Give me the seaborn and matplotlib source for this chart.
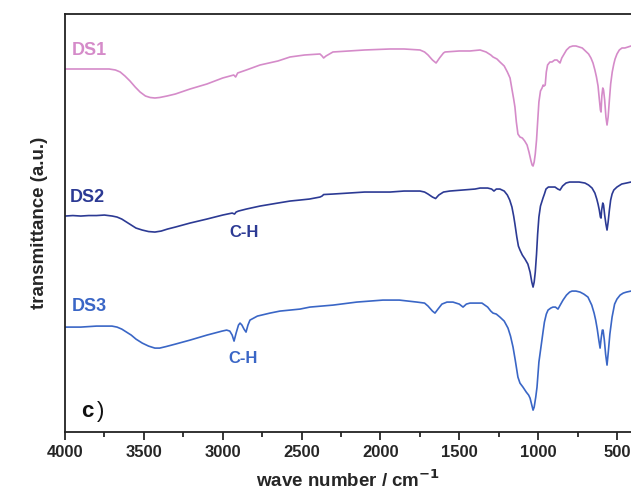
import numpy as np
import pandas as pd
import matplotlib
matplotlib.use("Agg")
import matplotlib.pyplot as plt
import seaborn as sns

sns.set_style("white")
plt.rcParams["font.family"] = ["Liberation Sans", "DejaVu Sans"]

# FTIR spectra: (wave number / cm-1, transmittance / a.u.)
ds1 = [(4000, 363), (3900, 363), (3800, 363), (3720, 363), (3680, 362), (3650, 360), (3620, 356),
       (3588, 351), (3555, 345), (3524, 340), (3490, 336), (3460, 334.5), (3430, 334), (3400, 334.5),
       (3353, 336), (3300, 338), (3207, 343), (3100, 348), (3000, 354), (2930, 357), (2918, 355),
       (2905, 359), (2850, 362), (2763, 367), (2650, 371), (2573, 375), (2480, 377), (2383, 378),
       (2370, 376), (2360, 374), (2345, 376), (2301, 380), (2200, 381), (2100, 382), (1939, 383),
       (1850, 383), (1749, 382), (1720, 380), (1698, 377), (1670, 372), (1647, 369), (1625, 374),
       (1600, 379), (1590, 380), (1500, 381), (1432, 381), (1368, 382), (1330, 380), (1300, 377),
       (1286, 375), (1261, 373), (1242, 370), (1215, 366), (1195, 360), (1178, 354), (1165, 342),
       (1155, 333), (1147, 325), (1138, 310), (1128, 298), (1115, 295), (1100, 294), (1085, 291),
       (1070, 287), (1058, 280), (1045, 271), (1038, 267), (1032, 266), (1025, 270), (1018, 278),
       (1010, 292), (1003, 310), (995, 330), (985, 341), (975, 344), (968, 347), (962, 346),
       (955, 347), (948, 360), (940, 367), (925, 370), (912, 370), (895, 372), (880, 372),
       (868, 370), (861, 369), (850, 374), (835, 378), (820, 382), (800, 385), (780, 386),
       (760, 386), (740, 385), (720, 384), (700, 381), (680, 378), (665, 374), (652, 369),
       (640, 362), (630, 355), (620, 346), (612, 333), (605, 322), (601, 320), (596, 336),
       (590, 344), (585, 342), (578, 332), (570, 315), (563, 307), (556, 315), (548, 332),
       (540, 348), (530, 360), (520, 368), (512, 373), (500, 378), (485, 382), (468, 384),
       (450, 384), (430, 385), (411, 386)]

ds2 = [(4000, 216), (3950, 216.5), (3900, 216), (3850, 216.5), (3800, 216.5), (3750, 217), (3700, 216),
       (3670, 215), (3640, 213), (3610, 210), (3580, 207), (3550, 204), (3510, 202), (3470, 200.5),
       (3430, 200), (3390, 201), (3350, 203), (3300, 205), (3207, 209), (3100, 213), (3000, 217),
       (2940, 219), (2925, 218), (2915, 220), (2900, 221), (2850, 223), (2763, 226), (2650, 229),
       (2573, 231), (2510, 232), (2450, 233), (2383, 235), (2370, 236), (2360, 237.5), (2301, 238),
       (2200, 239), (2100, 240), (1939, 240), (1850, 241), (1749, 241), (1720, 240), (1698, 238),
       (1670, 235), (1650, 233.5), (1630, 237), (1600, 240), (1560, 241), (1480, 242), (1400, 243),
       (1368, 244), (1320, 244), (1295, 243), (1280, 241), (1265, 243), (1242, 243), (1215, 241),
       (1195, 237), (1180, 232), (1166, 225), (1155, 216), (1147, 208), (1135, 195), (1125, 186),
       (1115, 182), (1100, 177), (1083, 173), (1065, 168), (1051, 160), (1040, 150), (1032, 145),
       (1025, 150), (1018, 160), (1010, 178), (1003, 198), (995, 215), (985, 226), (975, 231),
       (969, 234), (960, 238), (950, 243), (935, 245), (915, 245), (893, 245), (875, 243),
       (861, 242), (845, 246), (823, 249), (800, 250), (766, 250), (740, 250), (703, 249),
       (680, 247), (658, 244), (640, 239), (628, 233), (620, 228), (612, 222), (605, 215),
       (601, 214), (597, 222), (590, 229), (585, 227), (578, 217), (570, 208), (563, 202),
       (556, 210), (548, 222), (540, 232), (531, 238), (520, 242), (500, 245), (470, 248),
       (440, 249), (411, 250)]

ds3 = [(4000, 105), (3900, 105), (3800, 106), (3702, 106), (3670, 105), (3640, 103), (3610, 100),
       (3580, 97), (3550, 93), (3510, 89), (3470, 86), (3430, 84), (3400, 84), (3360, 85.5),
       (3300, 88), (3207, 92), (3100, 97), (3004, 101), (2975, 102), (2955, 101), (2940, 97),
       (2928, 91), (2915, 99), (2900, 107), (2890, 109), (2878, 107), (2865, 103), (2852, 100),
       (2840, 107), (2827, 112), (2780, 116), (2700, 119), (2637, 121), (2510, 123), (2447, 125),
       (2300, 127), (2150, 130), (1984, 132), (1880, 132), (1768, 130), (1720, 129), (1698, 126),
       (1670, 121), (1654, 119), (1635, 123), (1610, 128), (1578, 130), (1540, 130), (1500, 128),
       (1476, 125), (1455, 128), (1432, 129), (1400, 129), (1356, 129), (1320, 125), (1300, 121),
       (1286, 119), (1265, 118), (1242, 115), (1215, 111), (1191, 104), (1175, 96), (1159, 85),
       (1145, 72), (1128, 55), (1115, 49), (1096, 45), (1075, 40), (1060, 37), (1051, 34),
       (1040, 27), (1032, 22), (1025, 25), (1015, 35), (1007, 45), (995, 70), (982, 85),
       (975, 93), (969, 100), (960, 110), (948, 118), (937, 122), (920, 124), (906, 125),
       (890, 125), (874, 123), (860, 127), (842, 132), (820, 137), (800, 140), (785, 141),
       (760, 141), (734, 140), (710, 138), (684, 135), (660, 127), (645, 119), (635, 112),
       (625, 103), (615, 92), (607, 84), (600, 94), (593, 102), (588, 102), (580, 92),
       (572, 78), (563, 67), (555, 80), (545, 98), (531, 115), (515, 128), (500, 133),
       (480, 137), (460, 139), (440, 140), (411, 141)]

samples = {"DS1": ds1, "DS2": ds2, "DS3": ds3}
colors = {"DS1": "#d58bc9", "DS2": "#2c3a94", "DS3": "#3a66c6"}

df = pd.concat([pd.DataFrame(v, columns=["wn", "T"]).assign(sample=k)
                for k, v in samples.items()])

fig = plt.figure(figsize=(6.31, 4.99), dpi=100)
ax = fig.add_axes([0.103, 0.134, 0.897, 0.838])

sns.lineplot(data=df, x="wn", y="T", hue="sample", palette=colors, estimator=None,
             legend=False, linewidth=1.2, ax=ax)

ax.set_xlim(4000, 411)
ax.set_ylim(0, 418)
ax.set_xticks([4000, 3500, 3000, 2500, 2000, 1500, 1000, 500])
ax.set_xticks(np.arange(3750, 400, -500), minor=True)
ax.set_yticks([])
ax.tick_params(axis="x", which="major", direction="out", length=6, width=1.3,
               labelsize=12, bottom=True, pad=3)
ax.tick_params(axis="x", which="minor", direction="out", length=3.5, width=1.3, bottom=True)
for lab in ax.get_xticklabels():
    lab.set_fontweight("bold")

for s in ["left", "bottom", "top"]:
    ax.spines[s].set_color("#222222")
    ax.spines[s].set_linewidth(1.3)
ax.spines["right"].set_visible(False)

ax.set_xlabel("wave number / cm$^{\\mathbf{-1}}$", fontsize=13.5, fontweight="bold", labelpad=7)
ax.set_ylabel("transmittance (a.u.)", fontsize=13.5, fontweight="bold", labelpad=12)

# curve labels
ax.text(3955, 381, "DS1", color=colors["DS1"], fontsize=13, fontweight="bold", va="center")
ax.text(3970, 235, "DS2", color=colors["DS2"], fontsize=13, fontweight="bold", va="center")
ax.text(2960, 200, "C-H", color=colors["DS2"], fontsize=12, fontweight="bold", va="center")
ax.text(3955, 126, "DS3", color=colors["DS3"], fontsize=13, fontweight="bold", va="center")
ax.text(2965, 74, "C-H", color=colors["DS3"], fontsize=12, fontweight="bold", va="center")
ax.text(3900, 21, "c", color="#111111", fontsize=16, fontweight="bold", va="center")
ax.text(3795, 21, ")", color="#111111", fontsize=16, va="center")

fig.savefig("out.png", dpi=100)
